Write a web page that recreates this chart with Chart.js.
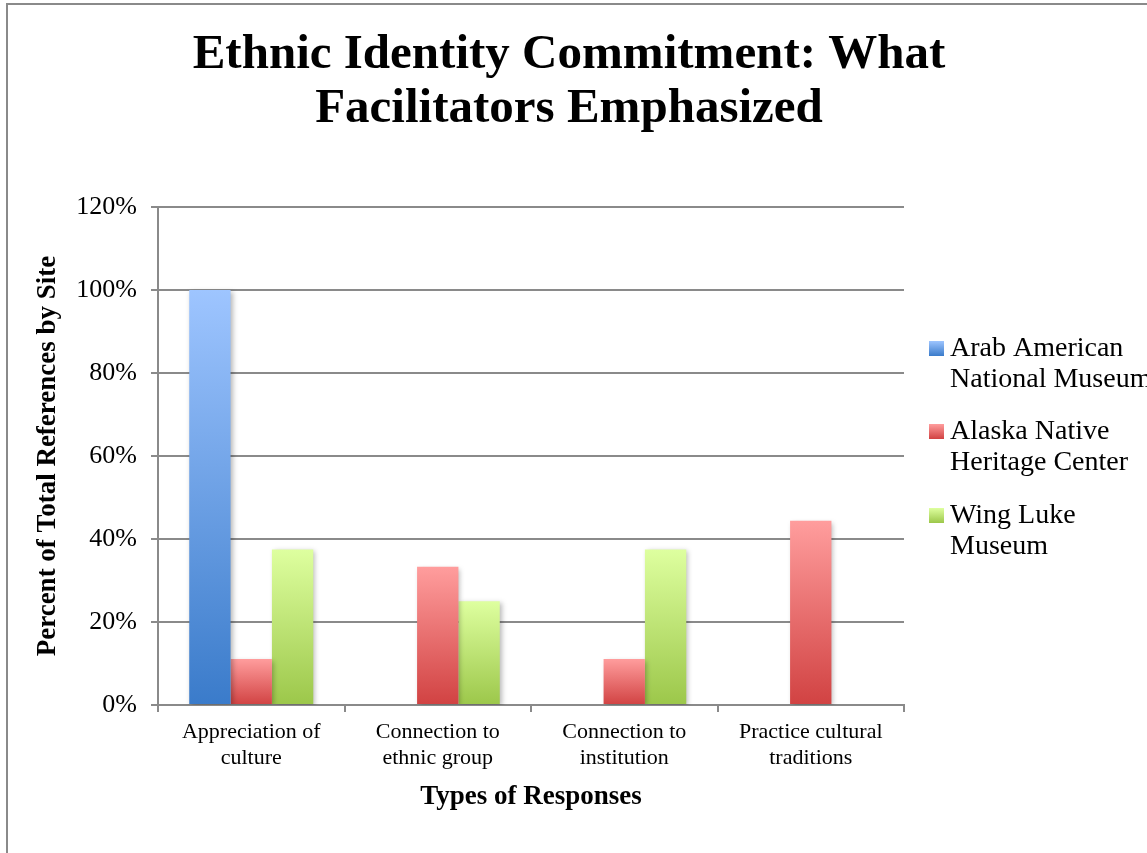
<!DOCTYPE html>
<html>
<head>
<meta charset="utf-8">
<script src="https://cdn.jsdelivr.net/npm/chart.js@4.4.1/dist/chart.umd.min.js"></script>
<style>
  html, body { margin: 0; padding: 0; background: #fff; }
  #wrap { position: relative; width: 1147px; height: 853px; overflow: hidden; }
</style>
</head>
<body>
<div id="wrap"><canvas id="grafico" width="1147" height="853"></canvas></div>
<script>
// categorias y series
var categorias = [
    ['Appreciation of', 'culture'],
    ['Connection to', 'ethnic group'],
    ['Connection to', 'institution'],
    ['Practice cultural', 'traditions']
];
var arabAmerican = [100, 0, 0, 0];
var alaskaNative = [11.1, 33.3, 11.1, 44.4];
var wingLuke = [37.5, 25, 37.5, 0];

var nombresSeries = [
    ['Arab American', 'National Museum'],
    ['Alaska Native', 'Heritage Center'],
    ['Wing Luke', 'Museum']
];
var ticksY = [0, 20, 40, 60, 80, 100, 120];

var titulo = ['Ethnic Identity Commitment: What', 'Facilitators Emphasized'];
var tituloY = 'Percent of Total References by Site';
var tituloX = 'Types of Responses';

var fuente = "'Liberation Serif', 'DejaVu Serif', serif";

// colores del degradado (arriba, abajo)
var colores = [
    ['#9ec5ff', '#3a7bca'],
    ['#ff9d9d', '#d14242'],
    ['#deff9f', '#9cc74a']
];

function degradado(idx){
    return function(context){
        var chart = context.chart;
        var y = chart.scales.y;
        if(!y || context.raw === undefined || !chart.chartArea) return colores[idx][1];
        var top = y.getPixelForValue(context.raw);
        var base = y.getPixelForValue(0);
        if(!isFinite(top) || top == base) return colores[idx][1];
        var g = chart.ctx.createLinearGradient(0, top, 0, base);
        g.addColorStop(0, colores[idx][0]);
        g.addColorStop(1, colores[idx][1]);
        return g;
    };
}

// marco gris, titulo y leyenda dibujados a mano
var decoracion = {
    id: 'decoracion',
    beforeDraw: function(chart){
        var ctx = chart.ctx;
        ctx.save();
        ctx.fillStyle = '#fff';
        ctx.fillRect(0, 0, chart.width, chart.height);
        ctx.strokeStyle = '#8a8a8a';
        ctx.lineWidth = 2;
        ctx.beginPath();
        ctx.moveTo(7, chart.height);
        ctx.lineTo(7, 4);
        ctx.lineTo(chart.width, 4);
        ctx.stroke();
        ctx.restore();
    },
    beforeDatasetsDraw: function(chart){
        var ctx = chart.ctx;
        ctx.save();
        ctx.shadowColor = 'rgba(0,0,0,0.28)';
        ctx.shadowBlur = 5;
        ctx.shadowOffsetX = 2;
        ctx.shadowOffsetY = 2;
    },
    afterDatasetsDraw: function(chart){
        chart.ctx.restore();
    },
    afterDraw: function(chart){
        var ctx = chart.ctx;
        ctx.save();
        ctx.fillStyle = '#000';
        ctx.textAlign = 'center';
        ctx.textBaseline = 'alphabetic';
        ctx.font = 'bold 49px ' + fuente;
        ctx.fillText(titulo[0], 569, 68);
        ctx.fillText(titulo[1], 569, 122);

        // leyenda
        ctx.textAlign = 'left';
        ctx.textBaseline = 'middle';
        ctx.font = '28px ' + fuente;
        var y0 = [348, 431, 515];
        for(var i=0;i<nombresSeries.length;i++){
            var g = ctx.createLinearGradient(0, y0[i]-7, 0, y0[i]+8);
            g.addColorStop(0, colores[i][0]);
            g.addColorStop(1, colores[i][1]);
            ctx.fillStyle = g;
            ctx.fillRect(929, y0[i]-7, 15, 15);
            ctx.fillStyle = '#000';
            for(var j=0;j<nombresSeries[i].length;j++){
                ctx.fillText(nombresSeries[i][j], 950, y0[i] + 1 + j*31);
            }
        }
        ctx.restore();
    }
};

var ctx = document.getElementById('grafico').getContext('2d');
var grafico = new Chart(ctx, {
    type: 'bar',
    data: {
        labels: categorias,
        datasets: [
            {label: nombresSeries[0].join(' '), data: arabAmerican, backgroundColor: degradado(0)},
            {label: nombresSeries[1].join(' '), data: alaskaNative, backgroundColor: degradado(1)},
            {label: nombresSeries[2].join(' '), data: wingLuke, backgroundColor: degradado(2)}
        ]
    },
    options: {
        responsive: false,
        animation: false,
        layout: { padding: { left: 28, right: 243, top: 207, bottom: 36 } },
        datasets: { bar: { categoryPercentage: 0.665, barPercentage: 1.0, borderWidth: 0 } },
        plugins: {
            legend: { display: false },
            title: { display: false },
            tooltip: { enabled: false }
        },
        scales: {
            x: {
                offset: true,
                grid: { display: true, drawOnChartArea: false, drawTicks: true, tickLength: 7, color: '#8a8a8a', lineWidth: 2, offset: true },
                border: { color: '#8a8a8a', width: 2 },
                ticks: { color: '#000', font: { family: fuente, size: 22, lineHeight: 1.15 }, padding: 8, maxRotation: 0, autoSkip: false },
                title: { display: true, text: tituloX, color: '#000', font: { family: fuente, size: 27, weight: 'bold' }, padding: { top: 8 } },
                afterFit: function(scale){ scale.height = 853 - 705 - 36; }
            },
            y: {
                min: 0,
                max: 120,
                afterBuildTicks: function(scale){ scale.ticks = ticksY.map(function(v){ return {value: v}; }); },
                grid: { color: '#8a8a8a', lineWidth: 2, tickLength: 7 },
                border: { color: '#8a8a8a', width: 2 },
                ticks: { color: '#000', font: { family: fuente, size: 26 }, padding: 14, callback: function(v){ return v + '%'; } },
                title: { display: true, text: tituloY, color: '#000', font: { family: fuente, size: 27, weight: 'bold' }, padding: 4 },
                afterFit: function(scale){ scale.width = 158 - 28; }
            }
        }
    },
    plugins: [decoracion]
});
</script>
</body>
</html>
